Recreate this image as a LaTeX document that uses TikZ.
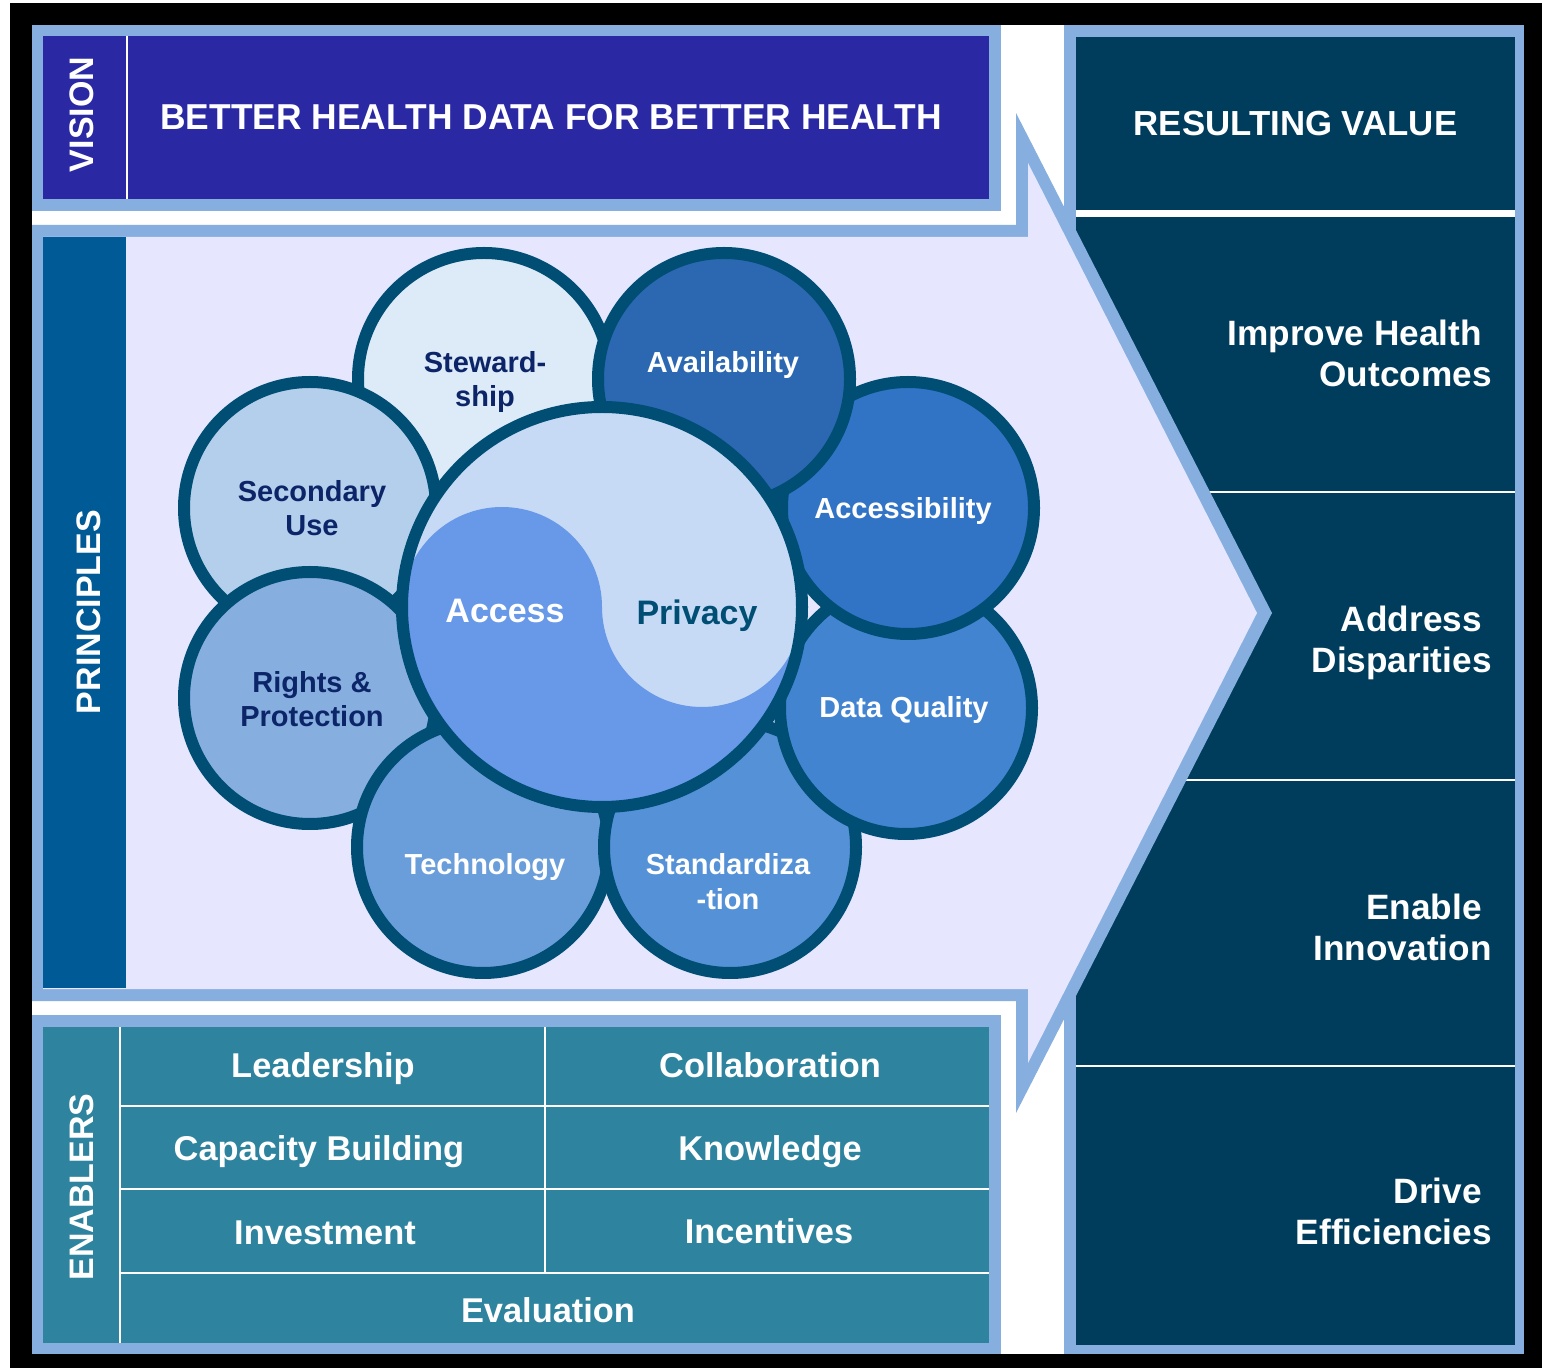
\documentclass[tikz,border=0pt]{standalone}
\usepackage{fontspec}
\setmainfont{Liberation Sans}
\definecolor{lightb}{HTML}{86AFE0}
\definecolor{lav}{HTML}{E6E6FF}
\definecolor{visionc}{HTML}{2A29A3}
\definecolor{princ}{HTML}{005A96}
\definecolor{enab}{HTML}{2E839F}
\definecolor{dpanel}{HTML}{003D5C}
\definecolor{ring}{HTML}{004E74}
\definecolor{navytxt}{HTML}{0C2468}
\definecolor{cStew}{HTML}{DDEAF7}
\definecolor{cSec}{HTML}{B4CFEC}
\definecolor{cRig}{HTML}{86AFE0}
\definecolor{cTech}{HTML}{6A9EDB}
\definecolor{cStd}{HTML}{5591D6}
\definecolor{cDQ}{HTML}{4384D1}
\definecolor{cAcc}{HTML}{3174C6}
\definecolor{cAva}{HTML}{2C68B2}
\definecolor{cCore}{HTML}{C6DAF6}
\definecolor{cAccess}{HTML}{6898E8}
\begin{document}
\begin{tikzpicture}[x=0.5pt,y=-0.5pt,
  bubble/.style={draw=ring, line width=6pt},
  sep/.style={draw=white, line width=1pt},
  dlab/.style={font=\bfseries\fontsize{14.5}{17.25}\selectfont, text=navytxt, align=center, inner sep=0pt, anchor=base},
  wlab/.style={dlab, text=white},
  biglab/.style={font=\bfseries\fontsize{17}{20}\selectfont, inner sep=0pt, anchor=base},
  enlab/.style={font=\bfseries\fontsize{17.2}{20}\selectfont, text=white, inner sep=0pt, anchor=base},
  rvlab/.style={font=\bfseries\fontsize{17.6}{20.5}\selectfont, text=white, align=right, inner sep=0pt, anchor=base east},
  sidelab/.style={font=\bfseries\fontsize{17}{20}\selectfont, text=white, inner sep=0pt, anchor=base, rotate=90}
]
\useasboundingbox (0,0) rectangle (1542,1368);
\fill[white] (0,0) rectangle (1542,1368);
\fill[black] (10,3) rectangle (1542,1368);
\fill[white] (32,25) rectangle (1524,1354);

% vision
\fill[lightb] (32,25) rectangle (1001,211);
\fill[visionc] (43,36) rectangle (989,199);
\draw[sep] (127,36) -- (127,199);

% right panel
\fill[lightb] (1064,25) rectangle (1524,1354);
\fill[dpanel] (1076,37) rectangle (1515,1345);
\draw[draw=white, line width=3.5pt] (1076,213.5) -- (1515,213.5);
\draw[sep] (1076,492) -- (1515,492);
\draw[sep] (1076,780) -- (1515,780);
\draw[sep] (1076,1066) -- (1515,1066);

% arrow
\fill[lightb] (32,225) -- (1016,225) -- (1016,113) -- (1272,613) -- (1016,1113) -- (1016,1001) -- (32,1001) -- cycle;
\fill[lav] (43,237) -- (1028,237) -- (1028,163) -- (1257,613) -- (1028,1063) -- (1028,989) -- (43,989) -- cycle;
\fill[princ] (43,237) rectangle (126,988);

% enablers
\fill[lightb] (32,1015) rectangle (1001,1354);
\fill[enab] (43,1027) rectangle (989,1343);
\draw[sep] (120,1027) -- (120,1343);
\draw[sep] (120,1106) -- (989,1106);
\draw[sep] (120,1189) -- (989,1189);
\draw[sep] (120,1273) -- (989,1273);
\draw[sep] (545,1027) -- (545,1273);

% bubbles
\draw[bubble, fill=cStew] (484,379) circle[radius=126];
\draw[bubble, fill=cSec] (310,508) circle[radius=126];
\draw[bubble, fill=cRig] (310,698) circle[radius=126];
\draw[bubble, fill=cTech] (483,847) circle[radius=126];
\draw[bubble, fill=cStd] (730,847) circle[radius=126];
\draw[bubble, fill=cDQ] (906,708) circle[radius=126];
\draw[bubble, fill=cAcc] (908,508) circle[radius=126];
\draw[bubble, fill=cAva] (724,379) circle[radius=126];

% core yin-yang
\fill[cCore] (602,607) circle[radius=200];
\begin{scope}
  \clip (602,607) circle[radius=200];
  \fill[cAccess] (402,607) arc[start angle=180, end angle=360, radius=100]
     arc[start angle=180, end angle=0, radius=100]
     arc[start angle=0, end angle=180, radius=200] -- cycle;
\end{scope}
\draw[bubble] (602,607) circle[radius=200];

% labels
\node[font=\bfseries\fontsize{18}{20}\selectfont, text=white, inner sep=0pt, anchor=base west] (vis) at (160,130) {\scalebox{0.983}[1]{BETTER HEALTH DATA FOR BETTER HEALTH}};
\node[sidelab] (visl) at (93,114.5) {VISION};
\node[sidelab] (prl) at (100,612) {PRINCIPLES};
\node[sidelab] (enl) at (93,1187) {ENABLERS};
\node[biglab, text=white, font=\bfseries\fontsize{17.4}{20}\selectfont] (rv) at (1295.5,136) {RESULTING VALUE};

\node[dlab] (stew) at (485,407) {Steward-\\ship};
\node[dlab] (sec) at (312,536) {Secondary\\Use};
\node[dlab] (rig) at (312,727) {Rights \&\\Protection};
\node[wlab] (tech) at (485,874) {Technology};
\node[wlab] (std) at (728,909) {Standardiza\\-tion};
\node[wlab] (dq) at (904,718) {Data Quality};
\node[wlab] (accb) at (903,519) {Accessibility};
\node[wlab] (ava) at (723,373) {Availability};
\node[biglab, text=white] (access) at (505,623) {Access};
\node[biglab, text=ring] (privacy) at (697,625) {Privacy};

\node[enlab] (lead) at (323,1077) {Leadership};
\node[enlab] (cap) at (319,1160) {Capacity Building};
\node[enlab] (inv) at (325,1244) {Investment};
\node[enlab] (col) at (770,1077) {Collaboration};
\node[enlab] (know) at (770,1160) {Knowledge};
\node[enlab] (inc) at (769,1243) {Incentives};
\node[enlab] (eval) at (548,1322) {Evaluation};

\node[rvlab] (imp) at (1492,387) {Improve Health\hbox to 4.9pt{}\\Outcomes};
\node[rvlab] (addr) at (1492,673) {Address\hbox to 4.9pt{}\\Disparities};
\node[rvlab] (enab) at (1492,960) {Enable\hbox to 4.9pt{}\\Innovation};
\node[rvlab] (drv) at (1492,1244) {Drive\hbox to 4.9pt{}\\Efficiencies};
\end{tikzpicture}
\end{document}
